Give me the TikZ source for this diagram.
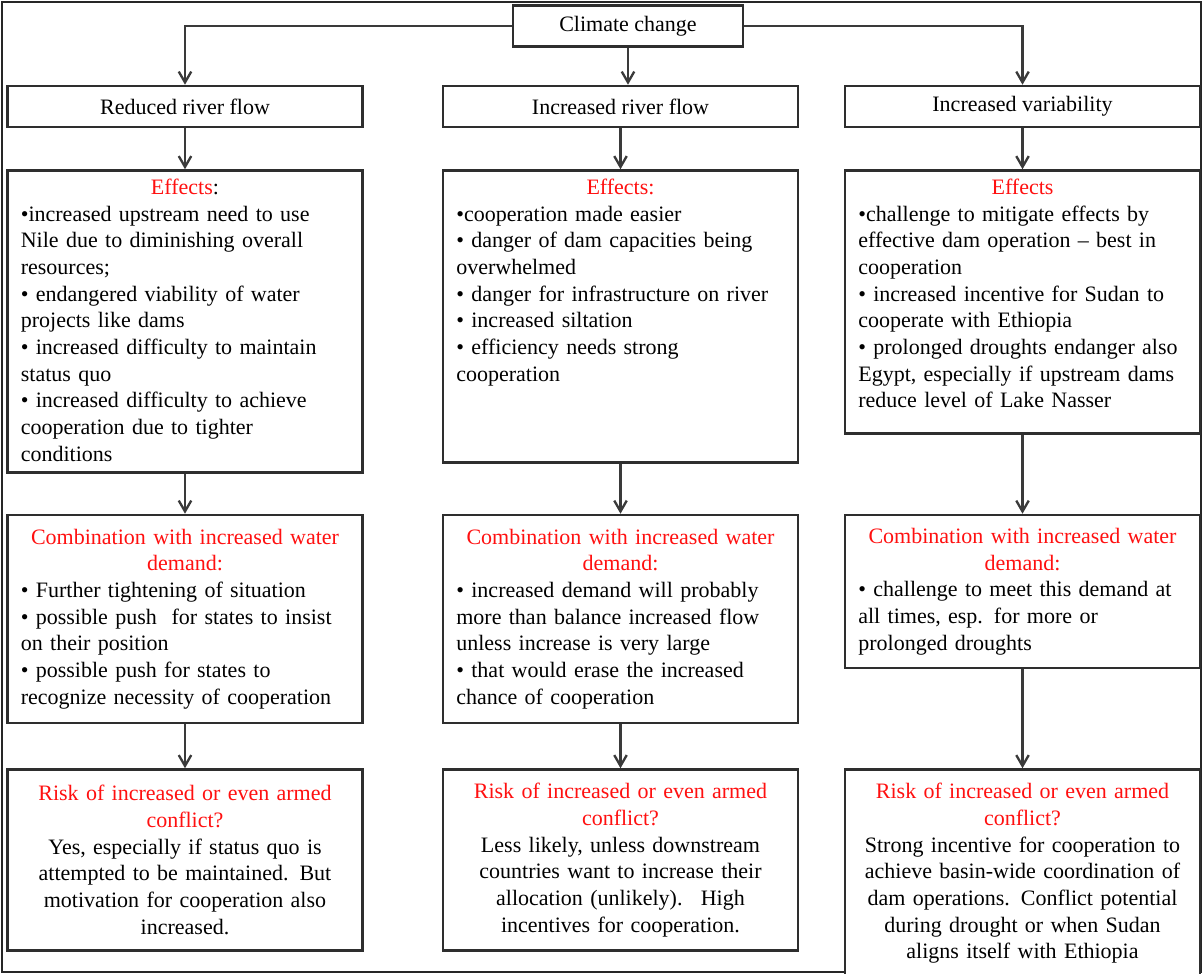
\documentclass[tikz,border=0pt]{standalone}
\usepackage{fontspec}
\setmainfont{Liberation Serif}
\usepackage{xcolor}
\usetikzlibrary{arrows.meta,positioning}
\definecolor{HeadRed}{HTML}{FF1010}
\definecolor{BoxGray}{HTML}{2E2E2E}
\definecolor{LineGray}{HTML}{3A3A3A}
\newcommand{\head}[1]{\makebox[\linewidth][c]{#1}}
\newcommand{\redtxt}[1]{\textcolor{HeadRed}{#1}}
\tikzset{
  box/.style={draw=BoxGray,line width=1.5pt,fill=white,inner xsep=8pt,
              text width=197pt,font=\fontsize{13.2}{16}\selectfont},
  titlebox/.style={draw=BoxGray,line width=1.5pt,fill=white,align=center,
              minimum height=24.6pt,minimum width=213pt,font=\fontsize{13.2}{16}\selectfont},
  effbox/.style={box,align=left,inner ysep=5.4pt,text height=9pt},
  combbox/.style={box,align=left,inner ysep=3pt},
  riskbox/.style={box,align=center,inner ysep=3pt},
  flow/.style={-{Straight Barb[length=6.5pt,width=7.5pt]},line width=1.4pt,draw=LineGray},
  frame/.style={draw=black!85,line width=0.9pt}
}
\begin{document}
\begin{tikzpicture}[x=0.6pt,y=-0.6pt]
  \useasboundingbox (0,0) rectangle (1203,974);
  \draw[frame] (2,2) rectangle (1201,972);

  \node[titlebox,minimum width=138pt] (climate) at (628,26) {Climate change};
  \node[titlebox] (reduced) at (185,106.5) {Reduced river flow};
  \node[titlebox] (incflow) at (620.5,106.5) {Increased river flow};
  \node[titlebox] (variab) at (1022.5,106.5) {Increased variability};

  % effects
  \node[effbox,below=24.6pt of reduced,text depth=161.4pt] (effL) {%
    \head{\redtxt{Effects}:}\\
    •increased upstream need to use\\
    Nile due to diminishing overall\\
    resources;\\
    • endangered viability of water\\
    projects like dams\\
    • increased difficulty to maintain\\
    status quo\\
    • increased difficulty to achieve\\
    cooperation due to tighter\\
    conditions};
  \node[effbox,below=24.6pt of incflow,text depth=155.4pt] (effM) {%
    \head{\redtxt{Effects:}}\\
    •cooperation made easier\\
    • danger of dam capacities being\\
    overwhelmed\\
    • danger for infrastructure on river\\
    • increased siltation\\
    • efficiency needs strong\\
    cooperation};
  \node[effbox,below=24.6pt of variab,text depth=138pt] (effR) {%
    \head{\redtxt{Effects}}\\
    •challenge to mitigate effects by\\
    effective dam operation – best in\\
    cooperation\\
    • increased incentive for Sudan to\\
    cooperate with Ethiopia\\
    • prolonged droughts endanger also\\
    Egypt, especially if upstream dams\\
    reduce level of Lake Nasser};

  % combination with demand
  \node[combbox,below=24pt of effL,minimum height=124.8pt] (combL) {%
    \head{\redtxt{Combination with increased water}}\\
    \head{\redtxt{demand:}}\\
    • Further tightening of situation\\
    • possible push \ for states to insist\\
    on their position\\
    • possible push for states to\\
    recognize necessity of cooperation};
  \node[combbox,below=30pt of effM,minimum height=124.8pt] (combM) {%
    \head{\redtxt{Combination with increased water}}\\
    \head{\redtxt{demand:}}\\
    • increased demand will probably\\
    more than balance increased flow\\
    unless increase is very large\\
    • that would erase the increased\\
    chance of cooperation};
  \node[combbox,below=47.4pt of effR,minimum height=91.8pt] (combR) {%
    \head{\redtxt{Combination with increased water}}\\
    \head{\redtxt{demand:}}\\
    • challenge to meet this demand at\\
    all times, esp. for more or\\
    prolonged droughts};

  % risk
  \node[riskbox,below=26.4pt of combL,minimum height=108.6pt] (riskL) {%
    \redtxt{Risk of increased or even armed}\\
    \redtxt{conflict?}\\
    Yes, especially if status quo is\\
    attempted to be maintained. But\\
    motivation for cooperation also\\
    increased.};
  \node[riskbox,below=26.4pt of combM,minimum height=108.6pt] (riskM) {%
    \redtxt{Risk of increased or even armed}\\
    \redtxt{conflict?}\\
    Less likely, unless downstream\\
    countries want to increase their\\
    allocation (unlikely). \ High\\
    incentives for cooperation.};
  \node[riskbox,below=59.4pt of combR,minimum height=124.8pt] (riskR) {%
    \redtxt{Risk of increased or even armed}\\
    \redtxt{conflict?}\\
    Strong incentive for cooperation to\\
    achieve basin-wide coordination of\\
    dam operations. Conflict potential\\
    during drought or when Sudan\\
    aligns itself with Ethiopia};

  \draw[flow] (climate.west) -| (reduced.north);
  \draw[flow] (climate.south) -- (climate.south |- incflow.north);
  \draw[flow] (climate.east) -| (variab.north);

  \draw[flow] (reduced) -- (effL);
  \draw[flow] (incflow) -- (effM);
  \draw[flow] (variab) -- (effR);
  \draw[flow] (effL) -- (combL);
  \draw[flow] (effM) -- (combM);
  \draw[flow] (effR) -- (combR);
  \draw[flow] (combL) -- (riskL);
  \draw[flow] (combM) -- (riskM);
  \draw[flow] (combR) -- (riskR);
\end{tikzpicture}
\end{document}
